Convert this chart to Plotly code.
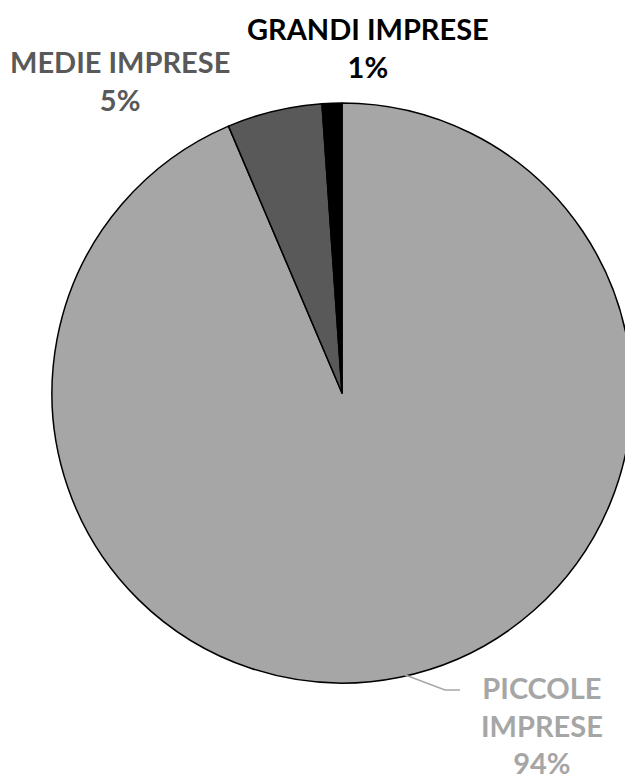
import plotly.graph_objects as go

categories = ["PICCOLE IMPRESE", "MEDIE IMPRESE", "GRANDI IMPRESE"]
values = [93.6, 5.3, 1.1]
pct_labels = ["94%", "5%", "1%"]
slice_colors = ["#a6a6a6", "#595959", "#000000"]
label_colors = ["#a6a6a6", "#595959", "#000000"]

W, H = 633, 781
OFF = 8  # page body margin offset


def px(x):
    return (x - OFF) / W


def py(y):
    return 1 - (y - OFF) / H


fig = go.Figure(go.Pie(
    labels=categories, values=values, sort=False, direction="clockwise", rotation=0,
    marker=dict(colors=slice_colors, line=dict(color="#000000", width=1.5)),
    textinfo="none", hoverinfo="label+percent", showlegend=False,
    domain=dict(x=[px(52), px(632)], y=[py(683), py(103)]),
))

font_family = "Lato, 'DejaVu Sans', sans-serif"
fs = 29
ann = [
    (542, 725, "PICCOLE<br>IMPRESE<br>" + pct_labels[0], label_colors[0]),
    (120, 81, "MEDIE IMPRESE<br>" + pct_labels[1], label_colors[1]),
    (368, 47, "GRANDI IMPRESE<br>" + pct_labels[2], label_colors[2]),
]
for x, y, t, c in ann:
    fig.add_annotation(x=px(x), y=py(y), xref="paper", yref="paper", text=t, showarrow=False,
                       xanchor="center", yanchor="middle", align="center",
                       font=dict(family=font_family, size=fs, color=c, weight="bold"))

fig.add_shape(type="path", xref="paper", yref="paper",
              path=f"M {px(400)},{py(673)} L {px(445)},{py(690)} L {px(460)},{py(690)}",
              line=dict(color="#a6a6a6", width=1.5))

fig.update_layout(width=W, height=H, margin=dict(l=0, r=0, t=0, b=0),
                  paper_bgcolor="white", plot_bgcolor="white")
fig.write_html("out.html")
